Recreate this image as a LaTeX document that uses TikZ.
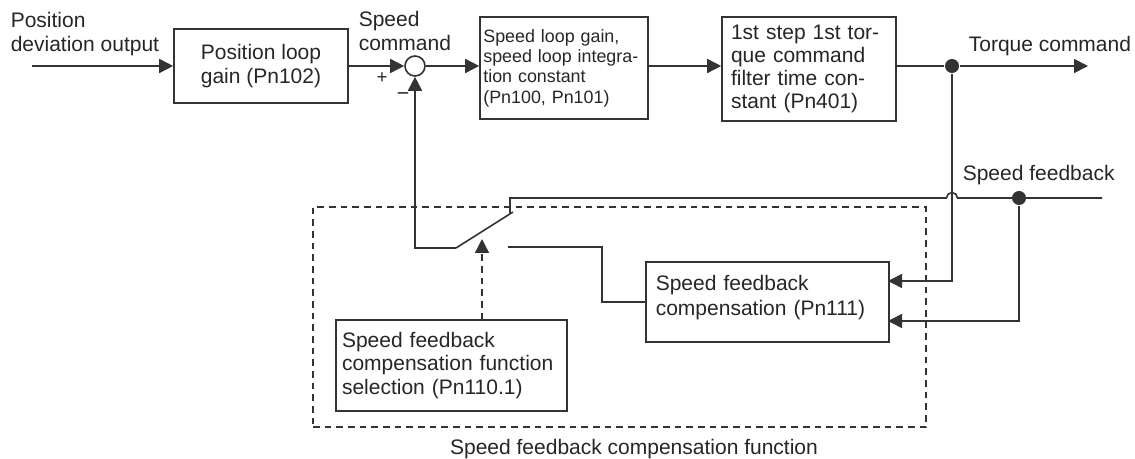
\documentclass[tikz,border=0pt]{standalone}
\usepackage{fontspec}
\setmainfont{Liberation Sans}
\usetikzlibrary{arrows.meta}

\begin{document}
\begin{tikzpicture}[x=.75pt,y=-.75pt,line width=1.2pt,draw=black!80,
  blk/.style={draw=black!80,line width=1.2pt,inner ysep=0pt,text=black!85,font=\fontsize{15.75}{17.5}\selectfont},
  lbl/.style={inner sep=0pt,align=left,text=black!85,font=\fontsize{15.75}{18}\selectfont},
  arr/.style={-{Triangle[length=10.5pt,width=10.5pt]}},
  dot/.style={circle,fill=black!80,inner sep=0pt,minimum size=10.5pt},
  frame/.style={draw=black!80,line width=1pt,dash pattern=on 5pt off 3.75pt}]
\path[use as bounding box] (0,0) rectangle (1135,459);
% blocks
\node[blk,minimum width=130.5pt,minimum height=55.5pt,align=center] (kp) at (261,66) {Position loop\\gain (Pn102)};
\node[circle,draw=black!80,line width=1.2pt,minimum size=15pt,inner sep=0pt] (sum) at (415,66) {};
\node[blk,minimum height=76.5pt,text width=121pt,inner xsep=2.5pt,align=left,font=\fontsize{13.4}{15.2}\selectfont] (kv) at (564,68) {Speed loop gain,\\speed loop integra-\\tion constant\\(Pn100, Pn101)};
\node[blk,minimum height=78pt,text width=117pt,inner xsep=6.75pt,align=left,font=\fontsize{15.75}{17.25}\selectfont] (tf) at (809,69) {1st step 1st tor-\\que command\\filter time con-\\stant (Pn401)};
\node[blk,anchor=north west,text width=167.25pt,inner xsep=7.5pt,text height=21.75pt,text depth=38.25pt,align=left,font=\fontsize{15.75}{18.75}\selectfont] (fbc) at (645,261) {Speed feedback\\compensation (Pn111)};
\node[blk,minimum height=68.25pt,text width=164.25pt,inner xsep=4.5pt,align=left] (sel) at (451.5,365.5) {Speed feedback\\compensation function\\selection (Pn110.1)};
\node[frame,minimum width=459.75pt,minimum height=165pt] (sfc) at (619.5,317) {};
\node[dot] (tq) at (952,66) {};
\node[dot] (sf) at (1019,198) {};
% labels
\node[lbl,anchor=base west] (pdo) at (10,52) {Position\\deviation output};
\node[lbl,anchor=base west] (scmd) at (358,51) {Speed\\command};
\node[lbl,anchor=base west] (tcmd) at (968,52) {Torque command};
\node[lbl,anchor=base west] (sfb) at (962,181) {Speed feedback};
\node[lbl,anchor=base] (cap) at (634,455) {Speed feedback compensation function};
\node[inner sep=0pt,text=black!85,font=\fontsize{14}{16}\selectfont] (plus) at (382,78) {+};
\node[inner sep=0pt,text=black!85,font=\fontsize{16}{18}\selectfont] (minus) at (403,97) {−};
% switch and free ends
\coordinate (in) at (32,66);
\coordinate (tqout) at (1088,66);
\coordinate (sfend) at (1102,198);
\coordinate (swp) at (456,248);
\coordinate (swblade) at (513,212);
\coordinate (swa) at (510,213);
\coordinate (swb) at (508,247);
\coordinate (swtip) at (482,239);
\coordinate (fbin1) at (888,281);
\coordinate (fbin2) at (888,321);
% forward path
\draw[arr] (in) -- (kp.west);
\draw[arr] (kp.east) -- (sum.west);
\draw[arr] (sum.east) -- (sum.east -| kv.west);
\draw[arr] (kv.east |- sum) -- (sum -| tf.west);
\draw (tf.east |- sum) -- (tq);
\draw[arr] (tq) -- (tqout);
% feedback
\draw[arr] (swp) -| (sum.south);
\draw (swp) -- (swblade);
\draw (swa) -- (510,198) -- (946.5,198) arc (180:0:4.1pt) -- (sfend);
\draw (swb) -- ++(94,0) |- (fbc.west);
\draw[arr] (tq) |- (fbin1);
\draw[arr] (sf) |- (fbin2);
\draw[arr,line width=1pt,dash pattern=on 5pt off 3.75pt] (sel.north -| swtip) -- (swtip);
\end{tikzpicture}
\end{document}
